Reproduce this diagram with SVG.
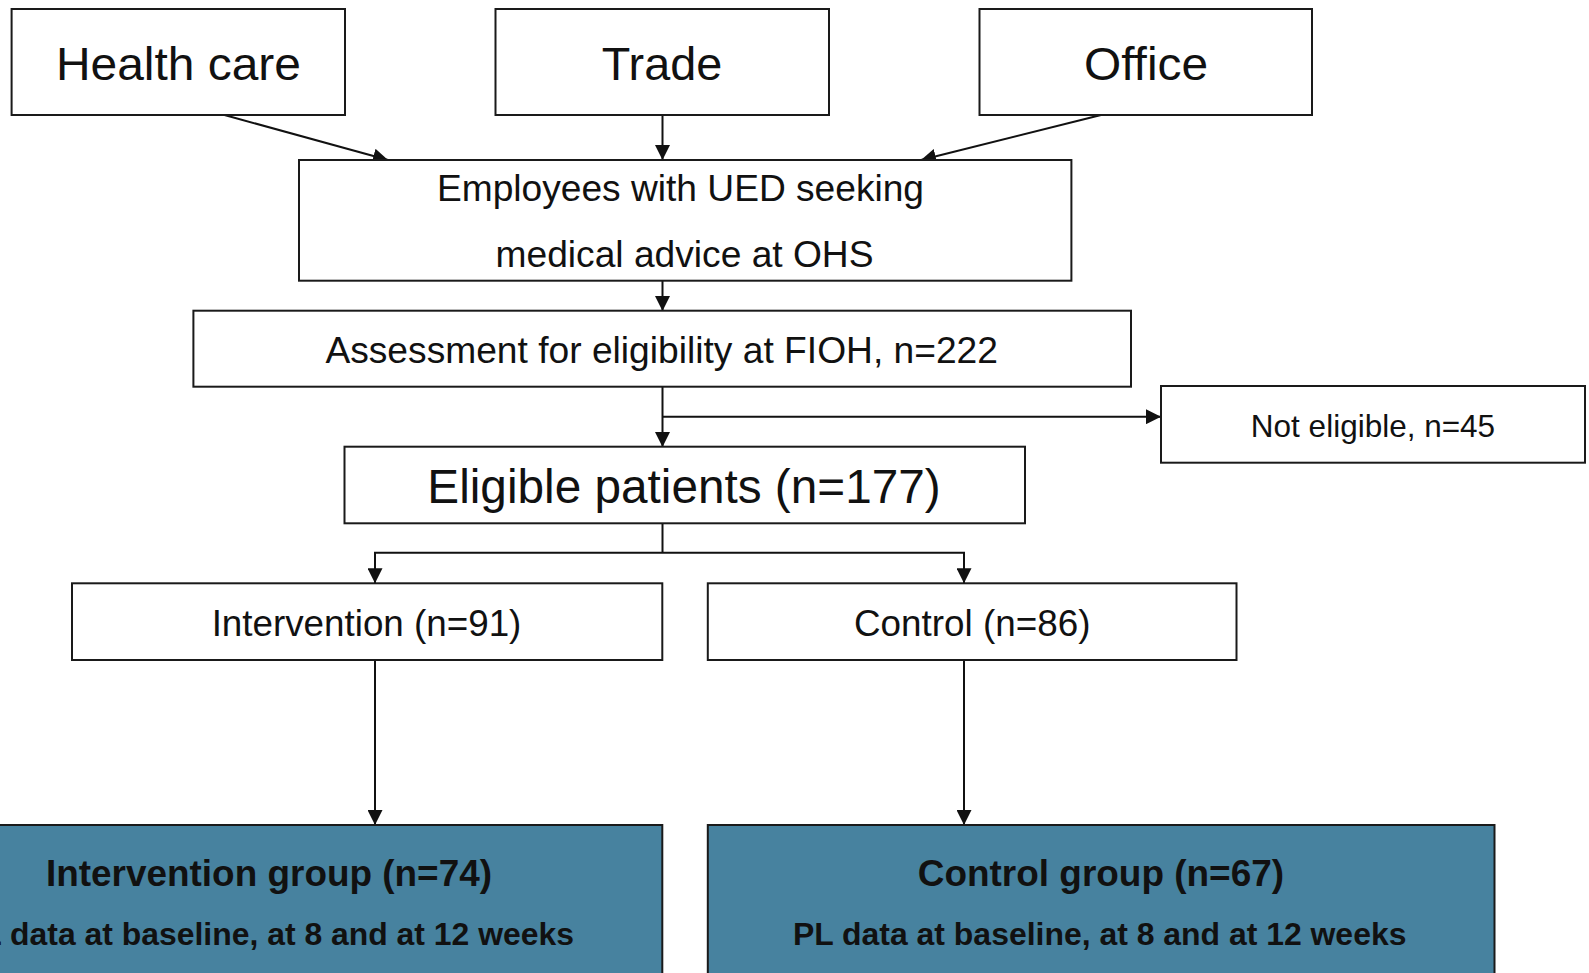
<svg xmlns="http://www.w3.org/2000/svg" width="1589" height="973" viewBox="0 0 1589 973">
<style>
.box{fill:#ffffff;stroke:#1a1a1a;stroke-width:2}
.grp{fill:#47829f;stroke:#1a1a1a;stroke-width:2}
.t{font-family:"Liberation Sans",Arial,sans-serif;fill:#111;text-anchor:middle}
.b{font-weight:bold}
.con{fill:none;stroke:#111;stroke-width:2}
</style>
<defs>
<marker id="ah" markerUnits="userSpaceOnUse" markerWidth="15" markerHeight="15" refX="15" refY="7.5" orient="auto">
<path d="M0,0 L15,7.5 L0,15 z" fill="#111"/>
</marker>
</defs>
<rect width="1589" height="973" fill="#ffffff"/>
<g id="connectors">
<line class="con" x1="224.5" y1="115" x2="388" y2="160" marker-end="url(#ah)"/>
<line class="con" x1="662.5" y1="115" x2="662.5" y2="160" marker-end="url(#ah)"/>
<line class="con" x1="1101" y1="115" x2="921" y2="160" marker-end="url(#ah)"/>
<line class="con" x1="662.5" y1="281" x2="662.5" y2="311" marker-end="url(#ah)"/>
<line class="con" x1="662.5" y1="387" x2="662.5" y2="447" marker-end="url(#ah)"/>
<line class="con" x1="662.5" y1="416.7" x2="1161" y2="416.7" marker-end="url(#ah)"/>
<polyline class="con" points="662.5,523.3 662.5,552.7"/>
<polyline class="con" points="375,570 375,552.7 964,552.7 964,583.3" marker-end="url(#ah)"/>
<line class="con" x1="375" y1="560" x2="375" y2="583.3" marker-end="url(#ah)"/>
<line class="con" x1="375" y1="660" x2="375" y2="825" marker-end="url(#ah)"/>
<line class="con" x1="964" y1="660" x2="964" y2="825" marker-end="url(#ah)"/>
</g>
<g id="health-care">
<rect class="box" x="11.6" y="9" width="333.4" height="106"/>
<text class="t" x="178.4" y="79.5" font-size="47" textLength="245" lengthAdjust="spacingAndGlyphs">Health care</text>
</g>
<g id="trade">
<rect class="box" x="495.5" y="9" width="333.5" height="106"/>
<text class="t" x="662" y="79.5" font-size="47" textLength="120.5" lengthAdjust="spacingAndGlyphs">Trade</text>
</g>
<g id="office">
<rect class="box" x="979.5" y="9" width="332.5" height="106"/>
<text class="t" x="1146" y="79.5" font-size="47" textLength="124" lengthAdjust="spacingAndGlyphs">Office</text>
</g>
<g id="employees">
<rect class="box" x="299" y="160" width="772.4" height="120.7"/>
<text class="t" x="680.5" y="200.6" font-size="37" textLength="487" lengthAdjust="spacingAndGlyphs">Employees with UED seeking</text>
<text class="t" x="684.5" y="266.7" font-size="37" textLength="378" lengthAdjust="spacingAndGlyphs">medical advice at OHS</text>
</g>
<g id="assessment">
<rect class="box" x="193.4" y="310.7" width="937.6" height="76"/>
<text class="t" x="661.7" y="362.7" font-size="37" textLength="672.6" lengthAdjust="spacingAndGlyphs">Assessment for eligibility at FIOH, n=222</text>
</g>
<g id="not-eligible">
<rect class="box" x="1161" y="386" width="424" height="76.7"/>
<text class="t" x="1373" y="436.7" font-size="31.5" textLength="244.3" lengthAdjust="spacingAndGlyphs">Not eligible, n=45</text>
</g>
<g id="eligible">
<rect class="box" x="344.5" y="446.7" width="680.5" height="76.6"/>
<text class="t" x="684" y="503.3" font-size="47.5" textLength="513.4" lengthAdjust="spacingAndGlyphs">Eligible patients (n=177)</text>
</g>
<g id="intervention">
<rect class="box" x="72" y="583.3" width="590.3" height="76.7"/>
<text class="t" x="366.5" y="636" font-size="37" textLength="309.7" lengthAdjust="spacingAndGlyphs">Intervention (n=91)</text>
</g>
<g id="control">
<rect class="box" x="707.8" y="583.3" width="528.7" height="76.7"/>
<text class="t" x="972.2" y="636" font-size="37" textLength="236.4" lengthAdjust="spacingAndGlyphs">Control (n=86)</text>
</g>
<g id="intervention-group">
<rect class="grp" x="-125" y="825" width="787.3" height="170"/>
<text class="t b" x="269" y="886" font-size="37" textLength="446" lengthAdjust="spacingAndGlyphs">Intervention group (n=74)</text>
<text class="t b" x="267.5" y="945" font-size="32" textLength="613" lengthAdjust="spacingAndGlyphs">PL data at baseline, at 8 and at 12 weeks</text>
</g>
<g id="control-group">
<rect class="grp" x="707.8" y="825" width="786.7" height="170"/>
<text class="t b" x="1100.9" y="886" font-size="37" textLength="366.3" lengthAdjust="spacingAndGlyphs">Control group (n=67)</text>
<text class="t b" x="1099.7" y="945" font-size="32" textLength="613.4" lengthAdjust="spacingAndGlyphs">PL data at baseline, at 8 and at 12 weeks</text>
</g>
</svg>
